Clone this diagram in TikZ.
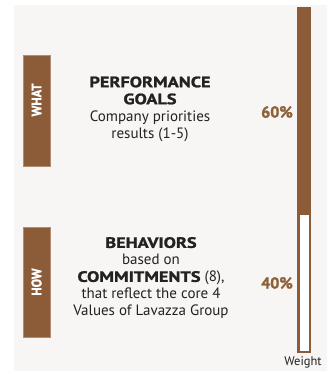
\documentclass[tikz,border=0pt]{standalone}
\usepackage{fontspec}
\setmainfont{PT Sans}
\newfontfamily\headfont{PT Sans}[FakeStretch=1.22,FakeBold=1.4]
\newfontfamily\tagfont{PT Sans}[FakeStretch=0.9,FakeBold=1.2]
\newfontfamily\pctfont{PT Sans}[FakeBold=1.4]
\newcommand\headword[1]{{\headfont\bfseries #1}}
\definecolor{coffee}{HTML}{8C5B37}
\definecolor{pctbrown}{HTML}{8E6238}
\definecolor{paper}{HTML}{F7F6F4}
\definecolor{ink}{HTML}{222222}
\tikzset{
  tagbox/.style={fill=coffee,draw=coffee!70!white,line width=0.5pt},
  tagtext/.style={rotate=90,text=white,font=\fontsize{14}{14}\selectfont\tagfont\bfseries},
  bodytext/.style={align=center,text=ink,font=\fontsize{15}{17}\selectfont},
  pct/.style={text=pctbrown,font=\fontsize{16}{16}\selectfont\pctfont\bfseries}
}
\begin{document}
\begin{tikzpicture}[x=1pt,y=-1pt]
\useasboundingbox (0,0) rectangle (327,374);
\fill [paper] (14,5) rectangle (327,371);
\draw [tagbox] (23,55) rectangle (50,166);
\node [tagtext] (what) at (36.5,100) {WHAT};
\draw [tagbox] (23,227) rectangle (50,337);
\node [tagtext] (how) at (36.5,282) {HOW};
\node [bodytext] (goals) at (150,109) {\headword{PERFORMANCE}\\\headword{GOALS}\\Company priorities\\results (1-5)};
\node [bodytext] (behav) at (151,278) {\headword{BEHAVIORS}\\based on\\\headword{COMMITMENTS} (8),\\that reflect the core 4\\Values of Lavazza Group};
\node [pct] (sixty) at (277,112) {60\%};
\node [pct] (forty) at (277,283) {40\%};
\fill [coffee] (297,7) rectangle (311,216);
\draw [coffee,line width=2.5pt,fill=white] (298.25,214) rectangle (309.75,352);
\node [text=ink,font=\fontsize{12.5}{12.5}\selectfont] (weight) at (303,362) {Weight};
\end{tikzpicture}
\end{document}
